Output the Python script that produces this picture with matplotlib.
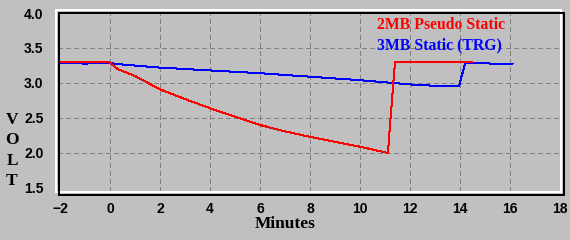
import matplotlib
matplotlib.use("Agg")
import matplotlib.pyplot as plt
from matplotlib.lines import Line2D

# ---- data ----
red_pre_x = [-2.0, 0.0]
red_pre_y = [3.30, 3.30]
red_x = [0.0, 0.3, 1.0, 2.0, 3.0, 4.0, 5.0, 6.0, 7.0, 8.0, 9.0, 10.0, 11.12, 11.2, 11.4, 14.5]
red_y = [3.29, 3.20, 3.10, 2.91, 2.77, 2.64, 2.52, 2.40, 2.31, 2.23, 2.16, 2.09, 2.00, 2.40, 3.30, 3.30]
blue_x = [-2.0, -1.1, -1.1, -0.9, -0.9, 0.0, 0.3, 2.0, 4.0, 6.0, 8.0, 10.0, 12.0, 13.0, 13.96, 14.2, 15.0, 16.1]
blue_y = [3.285, 3.285, 3.265, 3.265, 3.285, 3.285, 3.27, 3.22, 3.18, 3.14, 3.09, 3.04, 2.98, 2.96, 2.95, 3.28, 3.28, 3.27]
series_names = ["2MB Pseudo Static", "3MB Static (TRG)"]
xticks = [-2, 0, 2, 4, 6, 8, 10, 12, 14, 16, 18]
yticks = [1.5, 2.0, 2.5, 3.0, 3.5, 4.0]
ytick_labels = ["1.5", "2.0", "2.5", "3.0", "3.5", "4.0"]
xlabel = "Minutes"
ylabel_letters = ["V", "O", "L", "T"]

W, H = 570, 240
BG = "#c0c0c0"
PX = 72.0 / 100.0  # points per pixel

fig = plt.figure(figsize=(W / 100, H / 100), dpi=100, facecolor=BG)

def fx(px):
    return px / W

def fy(py):
    return 1 - py / H

ax = fig.add_axes([fx(58), fy(191), fx(561) - fx(58), fy(12) - fy(191)])
ax.set_facecolor(BG)
ax.set_xlim(-2.08, 18.04)
ax.set_ylim(1.457, 4.0143)
for s in ax.spines.values():
    s.set_visible(False)

# grid (interior only)
for xv in xticks[1:-1]:
    ax.axvline(xv, color="#808080", lw=PX, ls=(0, (5, 4)), antialiased=False, zorder=1)
for yv in yticks[1:-1]:
    ax.axhline(yv, color="#808080", lw=PX, ls=(0, (5, 4)), antialiased=False, zorder=1)

ax.plot(blue_x, blue_y, color="#0000ff", lw=PX, antialiased=False, zorder=3)
ax.plot(red_x, red_y, color="#ff0000", lw=PX, antialiased=False, zorder=4)
ax.plot(red_pre_x, red_pre_y, color="#ff0000", lw=PX * 2, antialiased=False, zorder=4,
        solid_capstyle="butt")

ax.set_xticks(xticks)
ax.set_xticklabels([("\u2212" + str(-v)) if v < 0 else str(v) for v in xticks])
ax.set_yticks(yticks)
ax.set_yticklabels(ytick_labels)
ax.tick_params(axis="both", length=0, labelsize=10, colors="black")
ax.tick_params(axis="y", pad=10.5)
ax.tick_params(axis="x", pad=8.0)
for lab in ax.get_xticklabels() + ax.get_yticklabels():
    lab.set_fontfamily("Liberation Sans")
    lab.set_fontweight("bold")

# legend texts
fig.text(fx(377), fy(25), series_names[0], color="#ff0000", fontsize=11.3,
         fontfamily="Liberation Serif", fontweight="bold", ha="left", va="center")
fig.text(fx(377), fy(45), series_names[1], color="#0000ff", fontsize=11.3,
         fontfamily="Liberation Serif", fontweight="bold", ha="left", va="center")

# axis labels
fig.text(fx(285), fy(224), xlabel, fontsize=12.5, fontfamily="Liberation Serif",
         fontweight="bold", ha="center", va="center")
for i, ch in enumerate(ylabel_letters):
    fig.text(fx(12), fy(120 + 20.3 * i), ch, fontsize=12.5, fontfamily="Liberation Serif",
             fontweight="bold", ha="center", va="center")

# 3D frame: white rect offset up-left, black rect offset down-right
def rect(x0, y0, x1, y1, color):
    fig.add_artist(Line2D([fx(x0), fx(x1), fx(x1), fx(x0), fx(x0)],
                          [fy(y0), fy(y0), fy(y1), fy(y1), fy(y0)],
                          transform=fig.transFigure, color=color, lw=PX * 1.5,
                          antialiased=False))

rect(55.5, 9.5, 560.5, 191.5, "white")
rect(58.5, 12.5, 563.5, 194.5, "black")

fig.savefig("out.png", dpi=100, facecolor=BG)
